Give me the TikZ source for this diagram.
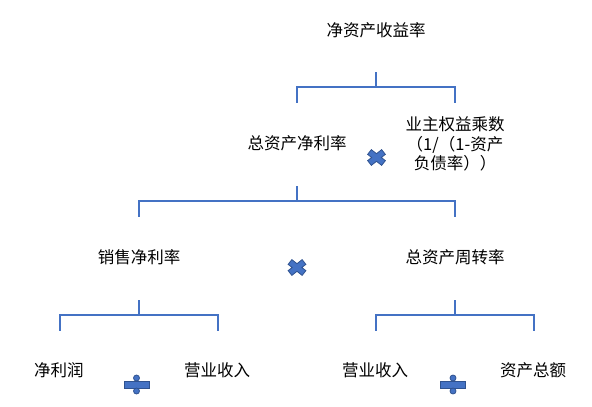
\documentclass[tikz,border=0pt]{standalone}
\usepackage{fontspec}
\newfontfamily\cjk{Noto Sans CJK SC}
\definecolor{linec}{HTML}{4472C4}
\definecolor{symfill}{HTML}{4472C4}
\definecolor{symedge}{HTML}{2F528F}
\tikzset{
  lbl/.style={font=\cjk\fontsize{16.5}{19.5}\selectfont, inner sep=0pt, align=center},
  brk/.style={draw=linec, line width=2.4pt},
  opsym/.style={fill=symfill, draw=symedge, line width=0.8pt},
  mulsign/.pic={
    \path[opsym] (4.84,0) -- (8.86,3.14) -- (5.14,7.86) -- (0,3.82) -- (-5.14,7.86)
      -- (-8.86,3.14) -- (-4.84,0) -- (-8.86,-3.14) -- (-5.14,-7.86) -- (0,-3.82)
      -- (5.14,-7.86) -- (8.86,-3.14) -- cycle;},
  divsign/.pic={
    \path[opsym] (-12.5,-3.5) rectangle (12.5,3.5);
    \path[opsym] (0,-6.5) circle[radius=3];
    \path[opsym] (0,6.5) circle[radius=3];},
}
\newcommand{\fork}[2]{% stem top, half width
  \draw[brk] (#1) -- ++(0,15) -- ++(-#2,0) -- ++(0,16);
  \draw[brk] (#1) ++(0,15) -- ++(#2,0) -- ++(0,16);}

\begin{document}
\begin{tikzpicture}[x=1pt, y=-1pt]
  \useasboundingbox (0,0) rectangle (592,407);
  % labels
  \node[lbl] (roe) at (376,30) {净资产收益率};
  \node[lbl] (roa) at (297,143) {总资产净利率};
  \node[lbl] (em) at (455,144) {业主权益乘数\\（1/（1-资产\\负债率））};
  \node[lbl] (npm) at (139,257) {销售净利率};
  \node[lbl] (tat) at (455,257) {总资产周转率};
  \node[lbl] (ni) at (59,370) {净利润};
  \node[lbl] (rev1) at (217,370) {营业收入};
  \node[lbl] (rev2) at (375,370) {营业收入};
  \node[lbl] (ta) at (533,370) {资产总额};
  % brackets
  \coordinate (f0) at (376,72);
  \coordinate (f1) at (297,186);
  \coordinate (f2) at (139,300);
  \coordinate (f3) at (455,300);
  \fork{f0}{79}
  \fork{f1}{158}
  \fork{f2}{79}
  \fork{f3}{79}
  % operators
  \pic at (376.5,157.5) {mulsign};
  \pic at (297,267.5) {mulsign};
  \pic at (136.5,384.5) {divsign};
  \pic at (453,384.5) {divsign};
\end{tikzpicture}
\end{document}
